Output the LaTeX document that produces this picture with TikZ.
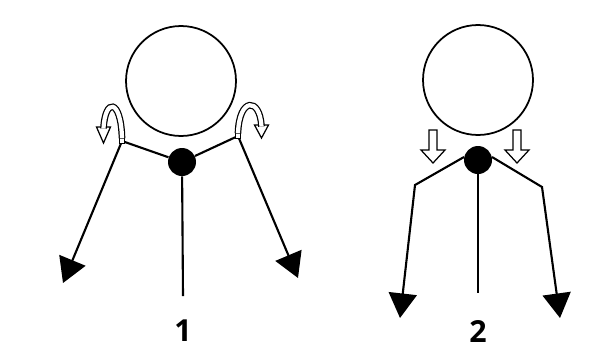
\documentclass[tikz,border=0pt]{standalone}
\usepackage{fontspec}
\setsansfont{Open Sans}
\usepackage{tikz}
\usetikzlibrary{arrows.meta}
\tikzset{
  ball/.style={draw,circle,line width=1pt,minimum size=2.2cm,inner sep=0pt},
  hub/.style={circle,fill=black,minimum size=0.56cm,inner sep=0pt},
  pin/.style={draw,fill=white,line width=0.5pt,minimum size=2.5pt,inner sep=0pt},
  stem/.style={line width=1.2pt},
  limb/.style={-{Triangle[length=14pt,width=16pt]},line width=1.2pt},
  flow/.style={draw,fill=white,line width=0.7pt,line join=miter},
  twist/.style={line width=0.7pt,double=white,double distance=2.4pt},
  tag/.style={font=\sffamily\bfseries\LARGE}
}
\begin{document}
\begin{tikzpicture}[x=0.02cm,y=-0.02cm]
  \useasboundingbox (0,0) rectangle (601,349);
  % 1
  \node[ball] (b1) at (181,81) {};
  \node[hub] (h1) at (182,162) {};
  \node[pin] (p1) at (122,141) {};
  \node[pin] (p2) at (238,136) {};
  \coordinate (t1) at (63,283);
  \coordinate (t2) at (298,278);
  \coordinate (e1) at (183,296);
  \draw[stem] (p1) -- (h1) -- (p2);
  \draw[stem] (h1) -- (e1);
  \draw[limb] (p1) -- (t1);
  \draw[limb] (p2) -- (t2);
  \draw[flow] (96.5,127) -- (110.5,127) -- (103.5,143) -- cycle;
  \draw[twist] (p1.north) .. controls (121,98) and (105,98) .. (103.5,128.5);
  \draw[flow] (254.5,125) -- (268.5,125) -- (261.5,138) -- cycle;
  \draw[twist] (p2.north) .. controls (239,97) and (260,97) .. (261.5,126.5);
  \node[tag] (n1) at (183,331) {1};
  % 2
  \node[ball] (b2) at (478,80) {};
  \node[hub] (h2) at (478,160) {};
  \coordinate (k1) at (415,185);
  \coordinate (k2) at (542,187);
  \coordinate (t3) at (400,318);
  \coordinate (t4) at (560,318);
  \coordinate (e2) at (478,293);
  \draw[stem] (h2) -- (e2);
  \draw[limb] (h2.168) -- (k1) -- (t3);
  \draw[limb] (h2.12) -- (k2) -- (t4);
  \foreach \x in {433,517}
    \draw[flow] ({\x-4},130) -- ({\x+4},130) -- ({\x+4},150) -- ({\x+12},150)
      -- (\x,163) -- ({\x-12},150) -- ({\x-4},150) -- cycle;
  \node[tag] (n2) at (478,331) {2};
\end{tikzpicture}
\end{document}
